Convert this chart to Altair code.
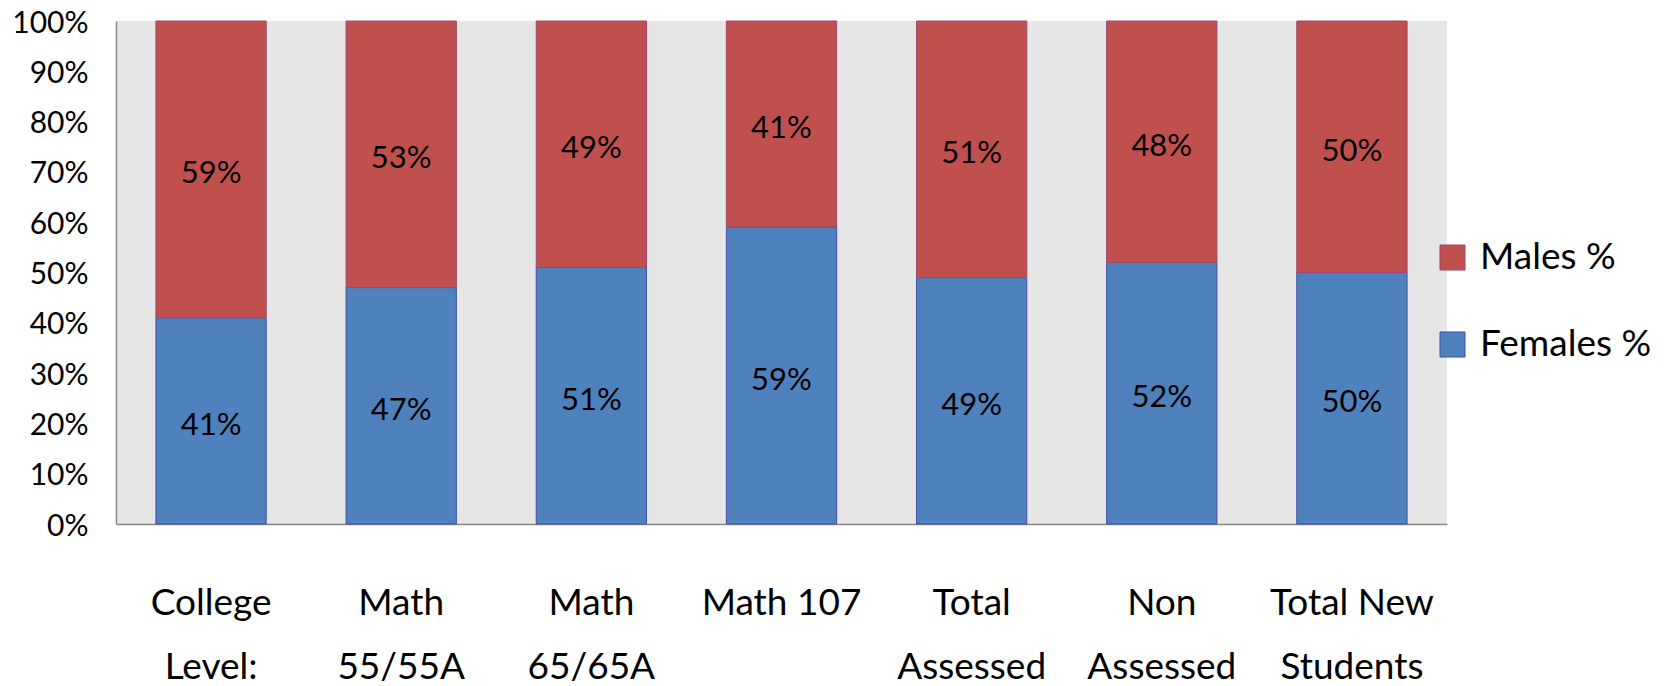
import altair as alt
import pandas as pd

categories = ["College|Level:", "Math|55/55A", "Math|65/65A", "Math 107",
              "Total|Assessed", "Non|Assessed", "Total New|Students"]
females = [41, 47, 51, 59, 49, 52, 50]
males = [59, 53, 49, 41, 51, 48, 50]
series = ["Males %", "Females %"]
colors = ["#C0504D", "#4F81BD"]
strokes = ["#A3456E", "#3F4FA8"]

rows = []
for c, f, m in zip(categories, females, males):
    rows.append({"cat": c, "series": "Females %", "val": f / 100, "order": 0})
    rows.append({"cat": c, "series": "Males %", "val": m / 100, "order": 1})
df = pd.DataFrame(rows)

FONT = "Lato"

base = alt.Chart(df).transform_stack(
    stack="val", groupby=["cat"], sort=[alt.SortField("order")], as_=["v0", "v1"]
).transform_calculate(mid="(datum.v0 + datum.v1) / 2")

x = alt.X("cat:N", sort=categories, title=None,
          scale=alt.Scale(paddingInner=0.42, paddingOuter=0.21),
          axis=alt.Axis(labelExpr="split(datum.label, '|')", labelAngle=0,
                        labelFont=FONT, labelFontSize=37, labelColor="black",
                        labelLineHeight=64, labelPadding=61, ticks=False,
                        domainColor="#888888", domainWidth=1.5, labelBaseline="top"))

bars = base.mark_bar(strokeWidth=1).encode(
    x=x,
    y=alt.Y("v0:Q", title=None, scale=alt.Scale(domain=[0, 1], nice=False),
            axis=alt.Axis(values=[i / 10 for i in range(11)], format=".0%",
                          labelFont=FONT, labelFontSize=30, labelColor="black",
                          labelPadding=28, labelOffset=2, ticks=False, grid=False,
                          domainColor="#888888", domainWidth=1.5)),
    y2="v1:Q",
    color=alt.Color("series:N", scale=alt.Scale(domain=series, range=colors),
                    legend=alt.Legend(title=None, orient="none", legendX=1318, legendY=218,
                                      symbolType="square", symbolSize=625,
                                      symbolStrokeWidth=1, labelFont=FONT,
                                      labelFontSize=37, labelColor="black",
                                      labelOffset=9, rowPadding=49, labelLimit=0)),
    stroke=alt.Stroke("series:N", scale=alt.Scale(domain=series, range=strokes), legend=None),
)

labels = base.mark_text(font=FONT, fontSize=31, color="black", dy=5).encode(
    x=alt.X("cat:N", sort=categories),
    y=alt.Y("mid:Q"),
    text=alt.Text("val:Q", format=".0%"),
)

chart = alt.layer(bars, labels).properties(
    width=1331, height=503,
    padding={"left": 116, "top": 21, "right": 232, "bottom": 162},
    autosize=alt.AutoSizeParams(type="none"),
    background="white",
).configure_view(fill="#E6E6E6", stroke=None)

chart.save("out.html", embed_options={"renderer": "svg", "actions": False})
